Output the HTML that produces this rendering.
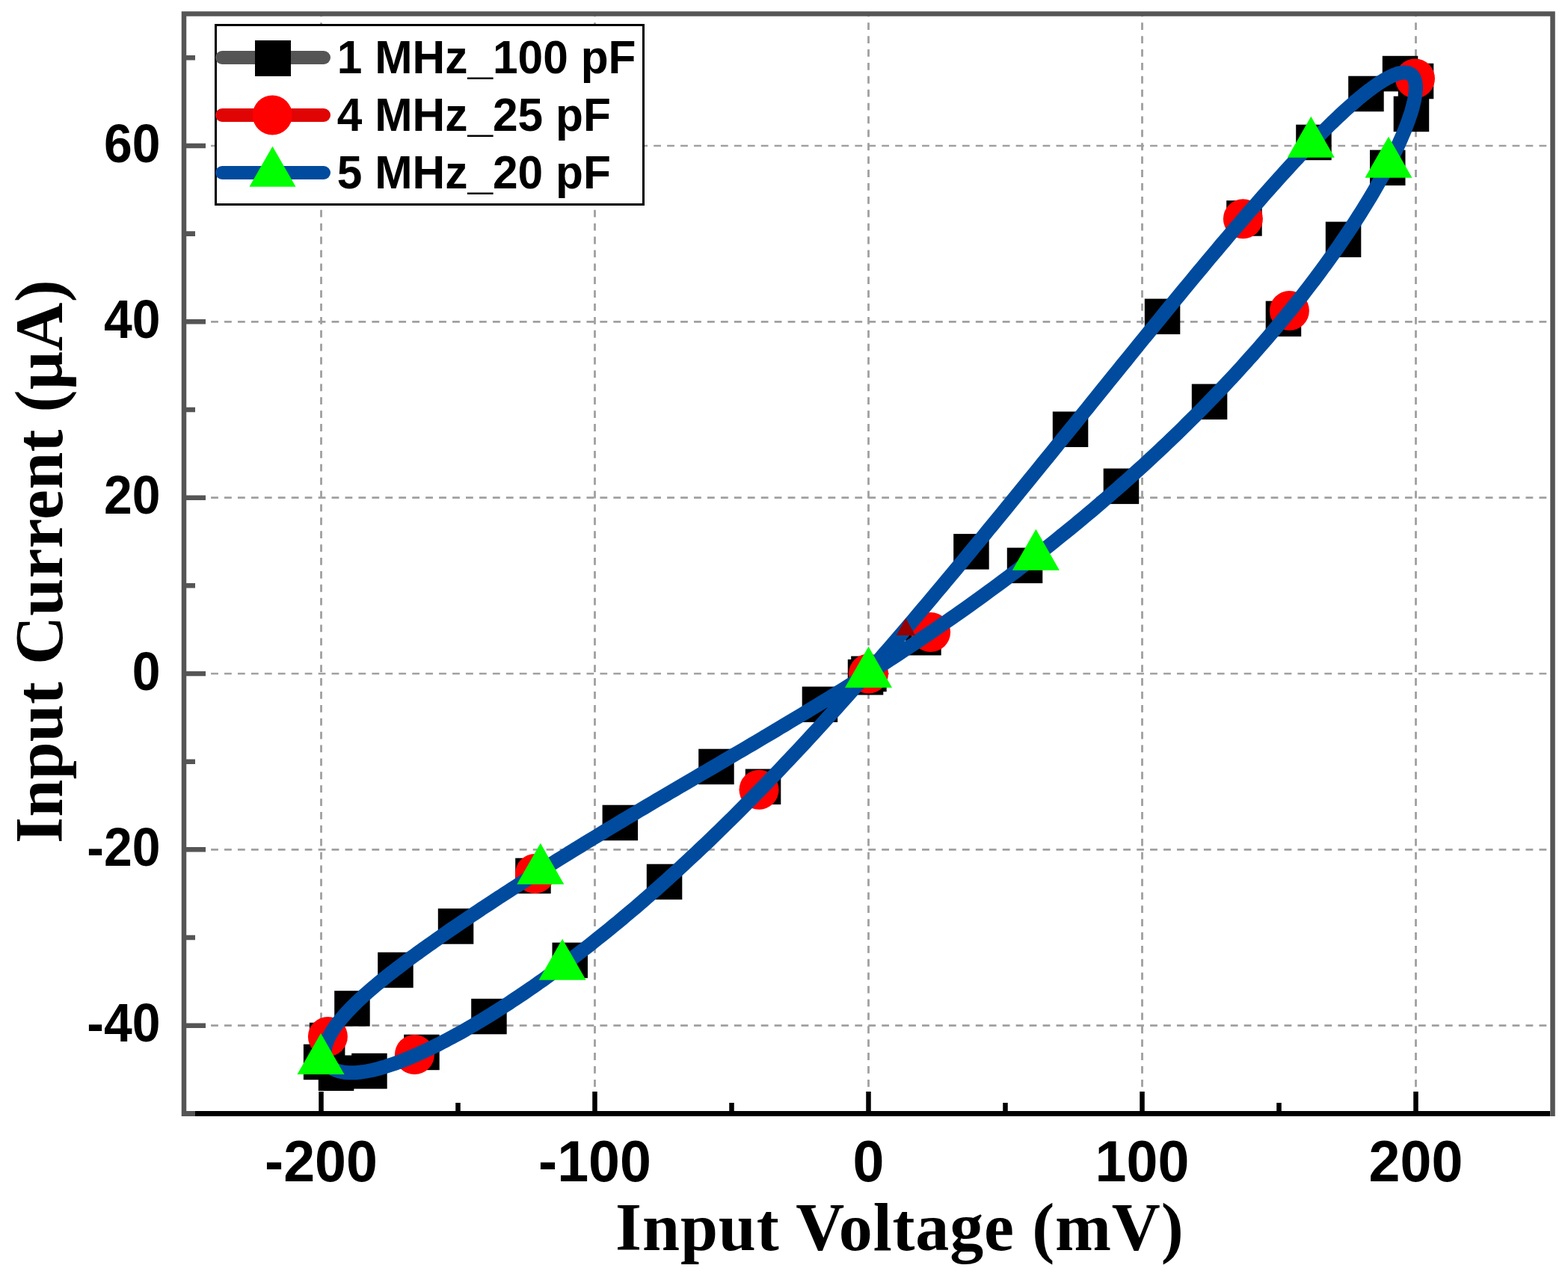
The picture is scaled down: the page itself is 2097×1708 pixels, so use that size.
<!DOCTYPE html>
<html><head><meta charset="utf-8"><style>html,body{margin:0;padding:0;background:#fff;}svg{display:block;}</style></head>
<body>
<svg width="2097" height="1708" viewBox="0 0 2097 1708">
<rect width="2097" height="1708" fill="#ffffff"/>
<path d="M429.5,1489.5V18.5 M795.5,1489.5V18.5 M1161.5,1489.5V18.5 M1527.5,1489.5V18.5 M1893.5,1489.5V18.5" stroke="#a0a0a0" stroke-width="2.8" stroke-dasharray="9.8 8.094" fill="none"/>
<path d="M246.2,1371.7H2076.5 M246.2,1136.3H2076.5 M246.2,901.0H2076.5 M246.2,665.7H2076.5 M246.2,430.3H2076.5 M246.2,195.0H2076.5" stroke="#a0a0a0" stroke-width="2.7" stroke-dasharray="9.8 8.143" fill="none"/>
<path d="M246,1493V18.5H2076.5V1493" stroke="#555555" fill="none" stroke-width="6.5"/>
<rect x="243" y="1486" width="18" height="7" fill="#555555"/>
<rect x="261" y="1486" width="1812" height="7" fill="#000"/>
<path d="M429.5,1486V1460 M795.5,1486V1460 M1161.5,1486V1460 M1527.5,1486V1460 M1893.5,1486V1460 M612.5,1486V1475 M978.5,1486V1475 M1344.5,1486V1475 M1710.5,1486V1475" stroke="#000" stroke-width="6.5" fill="none"/>
<path d="M249,1371.7H275 M249,1136.3H275 M249,901.0H275 M249,665.7H275 M249,430.3H275 M249,195.0H275 M249,1254.0H261 M249,1018.7H261 M249,783.3H261 M249,548.0H261 M249,312.6H261 M249,77.3H261" stroke="#555555" stroke-width="6.6" fill="none"/>
<g fill="#000"><rect x="1848.8" y="74.8" width="47.5" height="47.5"/><rect x="1803.2" y="101.7" width="47.5" height="47.5"/><rect x="1863.7" y="128.7" width="47.5" height="47.5"/><rect x="1869.8" y="84.8" width="47.5" height="47.5"/><rect x="1733.2" y="166.7" width="47.5" height="47.5"/><rect x="1832.0" y="200.6" width="47.5" height="47.5"/><rect x="1772.8" y="296.6" width="47.5" height="47.5"/><rect x="1640.2" y="268.2" width="47.5" height="47.5"/><rect x="1530.8" y="399.6" width="47.5" height="47.5"/><rect x="1692.7" y="402.6" width="47.5" height="47.5"/><rect x="1593.8" y="513.6" width="47.5" height="47.5"/><rect x="1407.8" y="550.5" width="47.5" height="47.5"/><rect x="1475.7" y="626.6" width="47.5" height="47.5"/><rect x="1275.2" y="714.1" width="47.5" height="47.5"/><rect x="1346.8" y="732.6" width="47.5" height="47.5"/><rect x="1211.2" y="829.0" width="47.5" height="47.5"/><rect x="1138.2" y="877.6" width="47.5" height="47.5"/><rect x="1133.8" y="882.0" width="47.5" height="47.5"/><rect x="1072.7" y="918.4" width="47.5" height="47.5"/><rect x="934.2" y="1001.7" width="47.5" height="47.5"/><rect x="996.8" y="1028.5" width="47.5" height="47.5"/><rect x="805.6" y="1076.7" width="47.5" height="47.5"/><rect x="864.8" y="1155.7" width="47.5" height="47.5"/><rect x="689.2" y="1147.7" width="47.5" height="47.5"/><rect x="585.8" y="1215.2" width="47.5" height="47.5"/><rect x="738.5" y="1260.7" width="47.5" height="47.5"/><rect x="630.2" y="1335.8" width="47.5" height="47.5"/><rect x="505.2" y="1273.7" width="47.5" height="47.5"/><rect x="447.2" y="1325.2" width="47.5" height="47.5"/><rect x="413.9" y="1367.8" width="47.5" height="47.5"/><rect x="405.9" y="1396.7" width="47.5" height="47.5"/><rect x="425.8" y="1411.5" width="47.5" height="47.5"/><rect x="470.2" y="1408.8" width="47.5" height="47.5"/><rect x="540.2" y="1383.7" width="47.5" height="47.5"/></g>
<g fill="#ff0000"><circle cx="1892.5" cy="105.1" r="26.5"/><circle cx="1662.4" cy="292.7" r="26.5"/><circle cx="1724.4" cy="415.5" r="26.5"/><circle cx="1244.6" cy="845.5" r="26.5"/><circle cx="1161.5" cy="901.0" r="26.5"/><circle cx="1015.0" cy="1056.3" r="26.5"/><circle cx="715.5" cy="1168.5" r="26.5"/><circle cx="438.4" cy="1386.4" r="26.5"/><circle cx="554.4" cy="1410.6" r="26.5"/></g>
<path d="M1163.7,896.3 L1170.1,889.0 L1176.4,881.7 L1182.8,874.3 L1189.2,867.0 L1195.5,859.6 L1201.9,852.2 L1208.2,844.8 L1214.6,837.3 L1221.0,829.9 L1227.3,822.4 L1233.6,814.9 L1240.0,807.4 L1246.3,799.9 L1252.6,792.3 L1258.9,784.8 L1265.3,777.2 L1271.6,769.7 L1277.9,762.1 L1284.1,754.6 L1290.4,747.0 L1296.7,739.4 L1302.9,731.8 L1309.2,724.3 L1315.4,716.7 L1321.6,709.1 L1327.8,701.6 L1334.0,694.0 L1340.2,686.4 L1346.4,678.9 L1352.6,671.3 L1358.7,663.8 L1364.8,656.3 L1370.9,648.8 L1377.0,641.2 L1383.1,633.8 L1389.2,626.3 L1395.2,618.8 L1401.3,611.4 L1407.3,604.0 L1413.3,596.6 L1419.2,589.2 L1425.2,581.8 L1431.1,574.5 L1437.1,567.2 L1442.9,559.9 L1448.8,552.6 L1454.7,545.4 L1460.5,538.1 L1466.3,531.0 L1472.1,523.8 L1477.8,516.7 L1483.6,509.6 L1489.3,502.5 L1495.0,495.5 L1500.6,488.5 L1506.3,481.6 L1511.9,474.6 L1517.5,467.8 L1523.0,460.9 L1528.5,454.1 L1534.1,447.4 L1539.5,440.7 L1545.0,434.0 L1550.4,427.4 L1555.8,420.8 L1561.1,414.2 L1566.4,407.7 L1571.7,401.3 L1577.0,394.9 L1582.2,388.5 L1587.4,382.2 L1592.6,376.0 L1597.7,369.8 L1602.8,363.7 L1607.9,357.6 L1612.9,351.5 L1617.9,345.5 L1622.9,339.6 L1627.8,333.8 L1632.7,327.9 L1637.6,322.2 L1642.4,316.5 L1647.2,310.9 L1652.0,305.3 L1656.7,299.8 L1661.4,294.3 L1666.0,289.0 L1670.6,283.6 L1675.2,278.4 L1679.7,273.2 L1684.2,268.1 L1688.6,263.0 L1693.0,258.0 L1697.4,253.1 L1701.7,248.2 L1706.0,243.5 L1710.2,238.7 L1714.4,234.1 L1718.6,229.5 L1722.7,225.0 L1726.8,220.6 L1730.8,216.2 L1734.8,212.0 L1738.7,207.7 L1742.6,203.6 L1746.5,199.5 L1750.3,195.6 L1754.0,191.6 L1757.8,187.8 L1761.4,184.0 L1765.1,180.4 L1768.6,176.7 L1772.2,173.2 L1775.7,169.8 L1779.1,166.4 L1782.5,163.1 L1785.9,159.9 L1789.2,156.7 L1792.4,153.7 L1795.6,150.7 L1798.8,147.8 L1801.9,145.0 L1805.0,142.2 L1808.0,139.6 L1811.0,137.0 L1813.9,134.5 L1816.7,132.1 L1819.6,129.7 L1822.3,127.5 L1825.0,125.3 L1827.7,123.2 L1830.3,121.2 L1832.9,119.3 L1835.4,117.4 L1837.9,115.6 L1840.3,113.9 L1842.6,112.3 L1844.9,110.8 L1847.2,109.4 L1849.4,108.0 L1851.5,106.7 L1853.6,105.5 L1855.7,104.4 L1857.7,103.3 L1859.6,102.4 L1861.5,101.5 L1863.4,100.7 L1865.1,99.9 L1866.9,99.3 L1868.5,98.7 L1870.2,98.2 L1871.7,97.8 L1873.2,97.5 L1874.7,97.2 L1876.1,97.1 L1877.5,97.0 L1878.8,97.0 L1880.0,97.0 L1881.2,97.2 L1882.3,97.4 L1883.4,97.7 L1884.4,98.0 L1885.4,98.5 L1886.3,99.0 L1887.2,99.6 L1888.0,100.2 L1888.7,101.0 L1889.4,101.8 L1890.0,102.7 L1890.6,103.7 L1891.2,104.7 L1891.6,105.8 L1892.0,107.0 L1892.4,108.2 L1892.7,109.6 L1893.0,111.0 L1893.1,112.4 L1893.3,114.0 L1893.4,115.6 L1893.4,117.3 L1893.4,119.0 L1893.3,120.8 L1893.1,122.7 L1893.0,124.6 L1892.7,126.7 L1892.4,128.7 L1892.0,130.9 L1891.6,133.1 L1891.2,135.4 L1890.6,137.7 L1890.0,140.1 L1889.4,142.6 L1888.7,145.1 L1888.0,147.7 L1887.2,150.4 L1886.3,153.1 L1885.4,155.8 L1884.4,158.7 L1883.4,161.6 L1882.3,164.5 L1881.2,167.5 L1880.0,170.6 L1878.8,173.7 L1877.5,176.8 L1876.1,180.1 L1874.7,183.4 L1873.2,186.7 L1871.7,190.1 L1870.2,193.5 L1868.5,197.0 L1866.9,200.5 L1865.1,204.1 L1863.4,207.8 L1861.5,211.4 L1859.6,215.2 L1857.7,218.9 L1855.7,222.8 L1853.6,226.6 L1851.5,230.5 L1849.4,234.5 L1847.2,238.5 L1844.9,242.5 L1842.6,246.6 L1840.3,250.7 L1837.9,254.9 L1835.4,259.1 L1832.9,263.3 L1830.3,267.6 L1827.7,271.9 L1825.0,276.2 L1822.3,280.6 L1819.6,285.0 L1816.7,289.5 L1813.9,293.9 L1811.0,298.4 L1808.0,303.0 L1805.0,307.5 L1801.9,312.1 L1798.8,316.7 L1795.6,321.4 L1792.4,326.1 L1789.2,330.8 L1785.9,335.5 L1782.5,340.2 L1779.1,345.0 L1775.7,349.8 L1772.2,354.6 L1768.6,359.4 L1765.1,364.3 L1761.4,369.2 L1757.8,374.1 L1754.0,379.0 L1750.3,383.9 L1746.5,388.8 L1742.6,393.8 L1738.7,398.8 L1734.8,403.7 L1730.8,408.7 L1726.8,413.7 L1722.7,418.8 L1718.6,423.8 L1714.4,428.8 L1710.2,433.9 L1706.0,439.0 L1701.7,444.0 L1697.4,449.1 L1693.0,454.2 L1688.6,459.3 L1684.2,464.4 L1679.7,469.5 L1675.2,474.6 L1670.6,479.7 L1666.0,484.9 L1661.4,490.0 L1656.7,495.1 L1652.0,500.3 L1647.2,505.4 L1642.4,510.5 L1637.6,515.7 L1632.7,520.8 L1627.8,525.9 L1622.9,531.1 L1617.9,536.2 L1612.9,541.3 L1607.9,546.5 L1602.8,551.6 L1597.7,556.7 L1592.6,561.8 L1587.4,566.9 L1582.2,572.1 L1577.0,577.2 L1571.7,582.3 L1566.4,587.4 L1561.1,592.5 L1555.8,597.5 L1550.4,602.6 L1545.0,607.7 L1539.5,612.8 L1534.1,617.8 L1528.5,622.9 L1523.0,627.9 L1517.5,632.9 L1511.9,638.0 L1506.3,643.0 L1500.6,648.0 L1495.0,653.0 L1489.3,657.9 L1483.6,662.9 L1477.8,667.9 L1472.1,672.8 L1466.3,677.7 L1460.5,682.7 L1454.7,687.6 L1448.8,692.5 L1442.9,697.4 L1437.1,702.2 L1431.1,707.1 L1425.2,711.9 L1419.2,716.7 L1413.3,721.5 L1407.3,726.3 L1401.3,731.1 L1395.2,735.9 L1389.2,740.6 L1383.1,745.4 L1377.0,750.1 L1370.9,754.8 L1364.8,759.4 L1358.7,764.1 L1352.6,768.7 L1346.4,773.4 L1340.2,778.0 L1334.0,782.6 L1327.8,787.1 L1321.6,791.7 L1315.4,796.2 L1309.2,800.7 L1302.9,805.2 L1296.7,809.7 L1290.4,814.2 L1284.1,818.6 L1277.9,823.0 L1271.6,827.4 L1265.3,831.8 L1258.9,836.2 L1252.6,840.5 L1246.3,844.8 L1240.0,849.1 L1233.6,853.4 L1227.3,857.7 L1221.0,861.9 L1214.6,866.1 L1208.2,870.3 L1201.9,874.5 L1195.5,878.7 L1189.2,882.8 L1182.8,887.0 L1176.4,891.1 L1170.1,895.2 L1163.7,899.2 L1157.3,903.3 L1151.0,907.3 L1144.6,911.3 L1138.2,915.3 L1131.9,919.3 L1125.5,923.3 L1119.2,927.2 L1112.8,931.1 L1106.4,935.0 L1100.1,938.9 L1093.8,942.8 L1087.4,946.7 L1081.1,950.5 L1074.8,954.3 L1068.5,958.1 L1062.1,961.9 L1055.8,965.7 L1049.5,969.5 L1043.3,973.2 L1037.0,977.0 L1030.7,980.7 L1024.5,984.4 L1018.2,988.1 L1012.0,991.8 L1005.8,995.5 L999.6,999.1 L993.4,1002.8 L987.2,1006.4 L981.0,1010.0 L974.8,1013.7 L968.7,1017.3 L962.6,1020.9 L956.5,1024.4 L950.4,1028.0 L944.3,1031.6 L938.2,1035.1 L932.2,1038.7 L926.1,1042.2 L920.1,1045.7 L914.1,1049.2 L908.2,1052.7 L902.2,1056.2 L896.3,1059.7 L890.3,1063.2 L884.5,1066.7 L878.6,1070.1 L872.7,1073.6 L866.9,1077.0 L861.1,1080.5 L855.3,1083.9 L849.6,1087.3 L843.8,1090.7 L838.1,1094.1 L832.4,1097.5 L826.8,1100.9 L821.1,1104.3 L815.5,1107.7 L809.9,1111.0 L804.4,1114.4 L798.8,1117.8 L793.3,1121.1 L787.9,1124.4 L782.4,1127.7 L777.0,1131.1 L771.6,1134.4 L766.3,1137.6 L761.0,1140.9 L755.7,1144.2 L750.4,1147.5 L745.2,1150.7 L740.0,1154.0 L734.8,1157.2 L729.7,1160.4 L724.6,1163.6 L719.5,1166.8 L714.5,1170.0 L709.5,1173.2 L704.5,1176.3 L699.6,1179.5 L694.7,1182.6 L689.8,1185.7 L685.0,1188.8 L680.2,1191.9 L675.4,1195.0 L670.7,1198.1 L666.0,1201.1 L661.4,1204.2 L656.8,1207.2 L652.2,1210.2 L647.7,1213.2 L643.2,1216.1 L638.8,1219.1 L634.4,1222.0 L630.0,1225.0 L625.7,1227.9 L621.4,1230.8 L617.2,1233.6 L613.0,1236.5 L608.8,1239.3 L604.7,1242.1 L600.6,1244.9 L596.6,1247.7 L592.6,1250.5 L588.7,1253.2 L584.8,1256.0 L580.9,1258.7 L577.1,1261.4 L573.4,1264.0 L569.6,1266.7 L566.0,1269.3 L562.3,1271.9 L558.8,1274.5 L555.2,1277.1 L551.7,1279.7 L548.3,1282.2 L544.9,1284.7 L541.5,1287.2 L538.2,1289.7 L535.0,1292.2 L531.8,1294.6 L528.6,1297.0 L525.5,1299.4 L522.4,1301.8 L519.4,1304.2 L516.4,1306.5 L513.5,1308.9 L510.7,1311.2 L507.8,1313.5 L505.1,1315.8 L502.4,1318.0 L499.7,1320.3 L497.1,1322.5 L494.5,1324.7 L492.0,1326.9 L489.5,1329.1 L487.1,1331.2 L484.8,1333.4 L482.5,1335.5 L480.2,1337.6 L478.0,1339.7 L475.9,1341.7 L473.8,1343.8 L471.7,1345.8 L469.7,1347.9 L467.8,1349.9 L465.9,1351.9 L464.0,1353.8 L462.3,1355.8 L460.5,1357.7 L458.9,1359.7 L457.2,1361.6 L455.7,1363.4 L454.2,1365.3 L452.7,1367.2 L451.3,1369.0 L449.9,1370.8 L448.6,1372.6 L447.4,1374.4 L446.2,1376.2 L445.1,1378.0 L444.0,1379.7 L443.0,1381.4 L442.0,1383.1 L441.1,1384.8 L440.2,1386.5 L439.4,1388.1 L438.7,1389.7 L438.0,1391.3 L437.4,1392.9 L436.8,1394.5 L436.2,1396.0 L435.8,1397.5 L435.4,1399.0 L435.0,1400.5 L434.7,1401.9 L434.4,1403.4 L434.3,1404.8 L434.1,1406.2 L434.0,1407.5 L434.0,1408.8 L434.0,1410.1 L434.1,1411.4 L434.3,1412.7 L434.4,1413.9 L434.7,1415.1 L435.0,1416.3 L435.4,1417.4 L435.8,1418.5 L436.2,1419.6 L436.8,1420.6 L437.4,1421.6 L438.0,1422.6 L438.7,1423.6 L439.4,1424.5 L440.2,1425.3 L441.1,1426.2 L442.0,1427.0 L443.0,1427.8 L444.0,1428.5 L445.1,1429.2 L446.2,1429.9 L447.4,1430.5 L448.6,1431.1 L449.9,1431.6 L451.3,1432.1 L452.7,1432.6 L454.2,1433.0 L455.7,1433.4 L457.2,1433.7 L458.9,1434.0 L460.5,1434.3 L462.3,1434.5 L464.0,1434.6 L465.9,1434.7 L467.8,1434.8 L469.7,1434.8 L471.7,1434.8 L473.8,1434.8 L475.9,1434.7 L478.0,1434.5 L480.2,1434.3 L482.5,1434.0 L484.8,1433.7 L487.1,1433.4 L489.5,1433.0 L492.0,1432.5 L494.5,1432.0 L497.1,1431.5 L499.7,1430.9 L502.4,1430.3 L505.1,1429.6 L507.8,1428.8 L510.7,1428.0 L513.5,1427.2 L516.4,1426.3 L519.4,1425.3 L522.4,1424.3 L525.5,1423.3 L528.6,1422.2 L531.8,1421.0 L535.0,1419.8 L538.2,1418.6 L541.5,1417.3 L544.9,1415.9 L548.3,1414.5 L551.7,1413.0 L555.2,1411.5 L558.8,1410.0 L562.3,1408.3 L566.0,1406.7 L569.6,1405.0 L573.4,1403.2 L577.1,1401.4 L580.9,1399.5 L584.8,1397.6 L588.7,1395.6 L592.6,1393.5 L596.6,1391.5 L600.6,1389.3 L604.7,1387.1 L608.8,1384.9 L613.0,1382.6 L617.2,1380.3 L621.4,1377.9 L625.7,1375.4 L630.0,1372.9 L634.4,1370.4 L638.8,1367.7 L643.2,1365.1 L647.7,1362.4 L652.2,1359.6 L656.8,1356.8 L661.4,1353.9 L666.0,1351.0 L670.7,1348.0 L675.4,1345.0 L680.2,1341.9 L685.0,1338.7 L689.8,1335.5 L694.7,1332.3 L699.6,1329.0 L704.5,1325.6 L709.5,1322.2 L714.5,1318.8 L719.5,1315.2 L724.6,1311.7 L729.7,1308.0 L734.8,1304.3 L740.0,1300.6 L745.2,1296.8 L750.4,1293.0 L755.7,1289.0 L761.0,1285.1 L766.3,1281.1 L771.6,1277.0 L777.0,1272.8 L782.4,1268.7 L787.9,1264.4 L793.3,1260.1 L798.8,1255.7 L804.4,1251.3 L809.9,1246.8 L815.5,1242.3 L821.1,1237.7 L826.8,1233.1 L832.4,1228.4 L838.1,1223.6 L843.8,1218.8 L849.6,1213.9 L855.3,1209.0 L861.1,1204.0 L866.9,1198.9 L872.7,1193.8 L878.6,1188.7 L884.5,1183.4 L890.3,1178.2 L896.3,1172.8 L902.2,1167.4 L908.2,1162.0 L914.1,1156.5 L920.1,1150.9 L926.1,1145.3 L932.2,1139.7 L938.2,1133.9 L944.3,1128.2 L950.4,1122.3 L956.5,1116.4 L962.6,1110.5 L968.7,1104.5 L974.8,1098.5 L981.0,1092.4 L987.2,1086.2 L993.4,1080.0 L999.6,1073.8 L1005.8,1067.5 L1012.0,1061.1 L1018.2,1054.8 L1024.5,1048.3 L1030.7,1041.8 L1037.0,1035.3 L1043.3,1028.7 L1049.5,1022.1 L1055.8,1015.4 L1062.1,1008.7 L1068.5,1002.0 L1074.8,995.2 L1081.1,988.3 L1087.4,981.5 L1093.8,974.6 L1100.1,967.6 L1106.4,960.6 L1112.8,953.6 L1119.2,946.6 L1125.5,939.5 L1131.9,932.4 L1138.2,925.2 L1144.6,918.0 L1151.0,910.8 L1157.3,903.6Z" stroke="#004b9d" stroke-width="19" fill="none" stroke-linejoin="round"/>
<path d="M1211.4,827.0L1224.0,849.8L1198.8,849.8Z" fill="#960000"/>
<path d="M1214.5,854.5L1218.6,850.4" stroke="#000" stroke-width="1.6"/>
<g><path d="M1753.3,155.7L1784.8,210.7L1721.8,210.7Z" fill="#00ff00"/><path d="M1857.0,182.8L1888.5,237.8L1825.5,237.8Z" fill="#00ff00"/><path d="M1385.4,707.8L1416.9,762.8L1353.9,762.8Z" fill="#00ff00"/><path d="M1161.5,864.7L1193.0,919.7L1130.0,919.7Z" fill="#00ff00"/><path d="M722.8,1127.7L754.3,1182.7L691.3,1182.7Z" fill="#00ff00"/><path d="M752.1,1255.8L783.6,1310.8L720.6,1310.8Z" fill="#00ff00"/><path d="M429.0,1382.1L460.5,1437.1L397.5,1437.1Z" fill="#00ff00"/></g>
<text transform="translate(429.5,1580.3) scale(0.962,1)" text-anchor="middle" style="font-family:'Liberation Sans',Arial,sans-serif;font-weight:bold;font-size:78.4px">-200</text>
<text transform="translate(795.5,1580.3) scale(0.962,1)" text-anchor="middle" style="font-family:'Liberation Sans',Arial,sans-serif;font-weight:bold;font-size:78.4px">-100</text>
<text transform="translate(1161.5,1580.3) scale(0.962,1)" text-anchor="middle" style="font-family:'Liberation Sans',Arial,sans-serif;font-weight:bold;font-size:78.4px">0</text>
<text transform="translate(1527.5,1580.3) scale(0.962,1)" text-anchor="middle" style="font-family:'Liberation Sans',Arial,sans-serif;font-weight:bold;font-size:78.4px">100</text>
<text transform="translate(1893.5,1580.3) scale(0.962,1)" text-anchor="middle" style="font-family:'Liberation Sans',Arial,sans-serif;font-weight:bold;font-size:78.4px">200</text>
<text transform="translate(214.5,1393.2) scale(0.932,1)" text-anchor="end" style="font-family:'Liberation Sans',Arial,sans-serif;font-weight:bold;font-size:72.9px">-40</text>
<text transform="translate(214.5,1157.8) scale(0.932,1)" text-anchor="end" style="font-family:'Liberation Sans',Arial,sans-serif;font-weight:bold;font-size:72.9px">-20</text>
<text transform="translate(214.5,922.5) scale(0.932,1)" text-anchor="end" style="font-family:'Liberation Sans',Arial,sans-serif;font-weight:bold;font-size:72.9px">0</text>
<text transform="translate(214.5,687.2) scale(0.932,1)" text-anchor="end" style="font-family:'Liberation Sans',Arial,sans-serif;font-weight:bold;font-size:72.9px">20</text>
<text transform="translate(214.5,451.8) scale(0.932,1)" text-anchor="end" style="font-family:'Liberation Sans',Arial,sans-serif;font-weight:bold;font-size:72.9px">40</text>
<text transform="translate(214.5,216.5) scale(0.932,1)" text-anchor="end" style="font-family:'Liberation Sans',Arial,sans-serif;font-weight:bold;font-size:72.9px">60</text>
<text x="823.1" y="1672.3" textLength="759.6" lengthAdjust="spacing" style="font-family:'Liberation Serif','Times New Roman',serif;font-weight:bold;font-size:90px">Input Voltage (mV)</text>
<text transform="translate(83,1127.9) rotate(-90)" x="0" y="0" textLength="753.7" lengthAdjust="spacing" style="font-family:'Liberation Serif','Times New Roman',serif;font-weight:bold;font-size:90px">Input Current (µA)</text>
<rect x="288.5" y="33.5" width="572" height="240" fill="#fff" stroke="#000" stroke-width="3"/>
<path d="M297,77H433" stroke="#555555" stroke-width="18" stroke-linecap="round"/>
<rect x="341" y="54" width="48" height="48" fill="#000"/>
<text transform="translate(450.8,98.2) scale(0.949,1)" style="font-family:'Liberation Sans',Arial,sans-serif;font-weight:bold;font-size:63.7px">1 MHz_100 pF</text>
<path d="M297,154H433" stroke="#e00404" stroke-width="18" stroke-linecap="round"/>
<circle cx="364.3" cy="154" r="26.5" fill="#ff0000"/>
<text transform="translate(450.8,175.2) scale(0.949,1)" style="font-family:'Liberation Sans',Arial,sans-serif;font-weight:bold;font-size:63.7px">4 MHz_25 pF</text>
<path d="M297,231H433" stroke="#004b9d" stroke-width="18" stroke-linecap="round"/>
<path d="M364.5,195.7L395.5,249.7L333.5,249.7Z" fill="#00ff00"/>
<text transform="translate(450.8,252.2) scale(0.949,1)" style="font-family:'Liberation Sans',Arial,sans-serif;font-weight:bold;font-size:63.7px">5 MHz_20 pF</text>
</svg>
</body></html>
